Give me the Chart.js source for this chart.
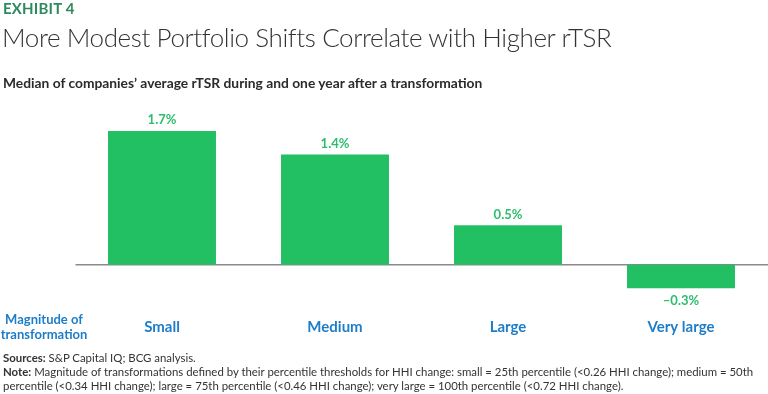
<!DOCTYPE html>
<html>
<head>
<meta charset="utf-8">
<script src="https://cdn.jsdelivr.net/npm/chart.js@4"></script>
<style>
  html, body { margin:0; padding:0; background:#fff; width:768px; height:394px; overflow:hidden; }
  body { position:relative; font-family:Lato, "Open Sans", sans-serif; }
  #wrap { position:absolute; left:0; top:0; width:768px; height:394px; }
  .t { position:absolute; white-space:nowrap; }
  #exhibit { left:3px; top:-1px; font-family:Lato; font-weight:700; font-size:15px; color:#2E8A5C; letter-spacing:0.2px; }
  #title { left:2px; top:21px; font-family:Lato; font-weight:300; font-size:26px; letter-spacing:-0.4px; color:#333; }
  #subtitle { left:3px; top:74px; font-family:Lato; font-weight:700; font-size:13.8px; color:#2b2b2b; }
  #mag { left:0px; top:312px; width:88px; text-align:center; font-family:Lato; font-weight:700; font-size:13px; line-height:15px; color:#1E7DC8; white-space:normal; }
  #notes { left:3px; top:351px; font-family:Lato; font-size:11.4px; line-height:14px; color:#333; white-space:normal; width:765px; }
  #notes b { font-weight:700; }
</style>
</head>
<body>
<div id="wrap"><canvas id="c" width="768" height="394"></canvas></div>
<div class="t" id="exhibit">EXHIBIT 4</div>
<div class="t" id="title">More Modest Portfolio Shifts Correlate with Higher rTSR</div>
<div class="t" id="subtitle">Median of companies’ average rTSR during and one year after a transformation</div>
<div class="t" id="mag">Magnitude of<br>transformation</div>
<div class="t" id="notes"><b>Sources:</b> S&amp;P Capital IQ; BCG analysis.<br><b>Note:</b> Magnitude of transformations defined by their percentile thresholds for HHI change: small = 25th percentile (&lt;0.26 HHI change); medium = 50th percentile (&lt;0.34 HHI change); large = 75th percentile (&lt;0.46 HHI change); very large = 100th percentile (&lt;0.72 HHI change).</div>
<script>
const categories = ["Small", "Medium", "Large", "Very large"];
const medianRTSR = [1.7, 1.4, 0.5, -0.3];
const valueLabels = ["1.7%", "1.4%", "0.5%", "\u20130.3%"];

const zeroLine = {
  id: 'zeroLine',
  beforeDatasetsDraw(chart) {
    const {ctx, chartArea, scales} = chart;
    const y = scales.y.getPixelForValue(0);
    ctx.save();
    ctx.strokeStyle = '#8a8a8a';
    ctx.lineWidth = 1.5;
    ctx.beginPath();
    ctx.moveTo(chartArea.left, y);
    ctx.lineTo(chartArea.right + 1, y);
    ctx.stroke();
    ctx.restore();
  }
};

const barLabels = {
  id: 'barLabels',
  afterDatasetsDraw(chart) {
    const {ctx} = chart;
    const meta = chart.getDatasetMeta(0);
    ctx.save();
    ctx.font = '700 13px Lato';
    ctx.fillStyle = '#2DBE6C';
    ctx.textAlign = 'center';
    ctx.textBaseline = 'middle';
    meta.data.forEach((bar, i) => {
      const v = chart.data.datasets[0].data[i];
      const y = v >= 0 ? bar.y - 11 : bar.y + 12;
      ctx.fillText(valueLabels[i], bar.x, y);
    });
    ctx.restore();
  }
};

new Chart(document.getElementById('c'), {
  type: 'bar',
  data: {
    labels: categories,
    datasets: [{
      data: medianRTSR,
      backgroundColor: '#22BF63',
      borderWidth: 0,
      categoryPercentage: 1,
      barPercentage: 0.624
    }]
  },
  options: {
    responsive: false,
    animation: false,
    events: [],
    layout: { padding: { left: 75.5, right: 0.5, top: 115.2, bottom: 47.8 } },
    plugins: { legend: { display: false }, tooltip: { enabled: false }, title: { display: false } },
    scales: {
      y: { display: false, min: -0.4, max: 1.9 },
      x: {
        grid: { display: false, drawTicks: false },
        border: { display: false },
        ticks: { color: '#1E7DC8', font: { family: 'Lato', weight: '700', size: 15 }, padding: 22, maxRotation: 0 },
        afterFit(scale) { scale.height = 50; }
      }
    }
  },
  plugins: [zeroLine, barLabels]
});
</script>
</body>
</html>
